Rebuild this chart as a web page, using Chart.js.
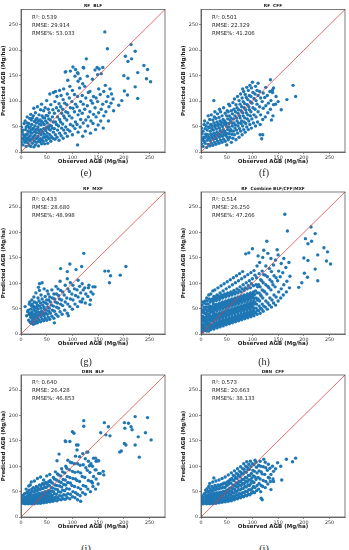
<!DOCTYPE html>
<html>
<head>
<meta charset="utf-8">
<script src="https://cdn.jsdelivr.net/npm/chart.js@4.4.1/dist/chart.umd.min.js"></script>
<style>
  body { margin: 0; background: #fff; width: 349px; height: 550px; overflow: hidden; position: relative; }
  .panel { position: absolute; }
  .cap { position: absolute; font-family: "Liberation Serif", serif; font-size: 10px; color: #222; transform: translate(-50%, -50%); }
</style>
</head>
<body>
<div class="panel" style="left:0;top:0"><canvas id="c0" width="175" height="168"></canvas></div>
<div class="panel" style="left:180px;top:0"><canvas id="c1" width="169" height="168"></canvas></div>
<div class="panel" style="left:0;top:182px"><canvas id="c2" width="175" height="168"></canvas></div>
<div class="panel" style="left:180px;top:182px"><canvas id="c3" width="169" height="168"></canvas></div>
<div class="panel" style="left:0;top:365px"><canvas id="c4" width="175" height="168"></canvas></div>
<div class="panel" style="left:180px;top:365px"><canvas id="c5" width="169" height="168"></canvas></div>

<div class="cap" style="left:86px;top:172px">(e)</div>
<div class="cap" style="left:264px;top:172px">(f)</div>
<div class="cap" style="left:86px;top:361px">(g)</div>
<div class="cap" style="left:264px;top:361px">(h)</div>
<div class="cap" style="left:86px;top:548px">(i)</div>
<div class="cap" style="left:264px;top:548px">(j)</div>

<script>
// titels en statistieken per paneel
const titles = ['RF  BLF', 'RF  CFF', 'RF  MXF', 'RF  Combine BLF/CFF/MXF', 'DBN  BLF', 'DBN  CFF'];
const r2 = ['0.539', '0.501', '0.433', '0.514', '0.640', '0.573'];
const rmse = ['29.914', '22.329', '28.680', '26.250', '26.428', '20.663'];
const rmsePct = ['53.033', '41.206', '48.998', '47.266', '46.853', '38.133'];
const tickVals = [0, 50, 100, 150, 200, 250];
const axisMax = 280;
const oneToOne = [0, 280];

// (e) RF BLF  [observed, predicted]
const rfBlf = [
  [1,19],[3,27],[2,39],[1,49],[4,14],[6,23],[5,34],[4,43],[6,56],[8,19],[7,31],[9,44],[8,61],
  [10,11],[11,23],[9,28],[11,35],[10,49],[12,57],[13,18],[14,25],[12,35],[14,41],[13,51],[12,69],
  [16,13],[17,22],[15,29],[17,39],[16,47],[15,56],[17,66],[19,11],[20,25],[18,32],[20,43],[18,49],[20,63],[19,74],
  [22,17],[23,27],[21,37],[23,45],[21,54],[22,67],[25,10],[26,21],[24,30],[26,40],[24,47],[26,60],[24,71],[25,86],
  [28,14],[29,26],[27,33],[29,44],[27,51],[29,64],[28,77],[31,19],[32,28],[30,38],[32,45],[30,57],[31,66],[32,89],
  [34,12],[35,23],[33,31],[35,42],[33,49],[34,61],[35,73],[37,20],[38,26],[36,37],[38,44],[36,55],[37,63],[38,83],
  [40,16],[41,24],[39,34],[41,41],[39,53],[40,60],[41,71],[40,94],[43,21],[44,29],[42,39],[44,46],[42,58],[43,67],[44,81],
  [46,16],[47,29],[45,35],[47,46],[45,54],[46,67],[47,87],[49,23],[50,31],[48,42],[50,49],[48,61],[49,72],[50,101],
  [52,17],[53,28],[51,37],[53,48],[51,57],[52,71],[53,84],[55,26],[56,34],[54,45],[56,52],[54,65],[55,77],[56,114],
  [58,21],[59,30],[57,43],[59,51],[57,63],[58,93],[62,27],[63,39],[61,47],[63,59],[61,69],[62,83],[63,117],
  [66,25],[67,34],[65,46],[67,59],[65,76],[66,99],[67,119],[70,29],[71,43],[69,54],[71,69],[69,87],[70,109],
  [74,23],[75,37],[73,51],[75,64],[73,81],[74,95],[75,121],[78,32],[79,47],[77,59],[79,76],[77,89],[78,111],
  [82,27],[83,43],[81,55],[83,71],[81,84],[82,103],[83,124],[86,37],[87,49],[85,67],[87,79],[85,96],[86,157],
  [90,31],[91,44],[89,63],[91,77],[89,93],[90,114],[91,141],[95,41],[96,54],[94,71],[96,87],[94,106],[95,129],[96,159],
  [100,34],[101,51],[99,67],[101,86],[99,99],[100,121],[101,167],[105,46],[106,59],[104,79],[106,94],[104,113],[105,149],[106,162],
  [110,14],[111,39],[109,54],[111,73],[109,89],[110,109],[111,139],[110,156],[115,49],[116,64],[114,81],[116,99],[114,126],[115,144],
  [120,31],[121,57],[119,76],[121,94],[119,111],[120,134],[121,166],[125,41],[126,63],[124,84],[126,106],[124,129],[127,183],
  [130,51],[131,69],[129,91],[131,117],[129,149],[135,37],[136,61],[134,79],[136,101],[134,119],
  [140,56],[141,74],[139,96],[141,109],[139,143],[145,44],[146,69],[144,87],[146,106],[144,161],
  [150,53],[151,77],[149,99],[151,124],[149,152],[152,163],[155,61],[156,84],[154,113],[156,154],
  [160,47],[161,71],[159,94],[161,119],[159,166],[165,79],[166,99],[164,131],[170,61],[171,89],[169,109],[173,124],
  [175,96],[176,114],[180,81],[179,104],
  [163,236],[168,203],[214,211],[222,198],[203,188],[208,178],[215,183],[239,170],[246,162],[227,156],[200,150],
  [208,145],[244,144],[252,138],[222,128],[201,120],[207,112],[227,105],[196,101],[190,92],[148,166],[122,165],[87,158],[111,154]
];

// (f) RF CFF
const rfCff = [
  [1,16],[3,24],[2,36],[1,47],[4,11],[6,21],[5,29],[4,41],[6,54],[8,17],[7,28],[9,35],[8,46],[7,61],
  [11,9],[12,23],[10,30],[12,43],[10,51],[14,15],[15,27],[13,34],[15,48],[13,57],[14,71],
  [17,12],[18,22],[16,29],[18,41],[16,49],[17,64],[20,17],[21,28],[19,35],[21,46],[19,54],[20,73],
  [23,13],[24,25],[22,32],[24,43],[22,51],[23,63],[26,19],[27,30],[25,37],[27,49],[25,57],[26,69],[27,79],
  [29,15],[30,26],[28,34],[30,45],[28,53],[29,66],[32,21],[33,32],[31,39],[33,51],[31,59],[32,75],
  [35,17],[36,29],[34,36],[36,47],[34,55],[35,68],[36,84],[38,23],[39,34],[37,42],[39,53],[37,61],[38,79],
  [41,19],[42,31],[40,39],[42,50],[40,58],[41,71],[44,25],[45,36],[43,44],[45,56],[43,64],[44,87],
  [47,21],[48,33],[46,41],[48,53],[46,61],[47,76],[50,14],[51,29],[49,37],[51,49],[49,57],[50,71],[51,81],
  [53,24],[54,36],[52,44],[54,56],[52,65],[53,79],[54,94],[56,29],[57,41],[55,49],[57,62],[55,71],[56,91],
  [59,19],[60,35],[58,44],[60,57],[58,67],[59,81],[62,27],[63,41],[61,51],[63,65],[61,75],[62,97],
  [65,34],[66,47],[64,57],[66,71],[64,84],[65,104],[68,24],[69,43],[67,53],[69,67],[67,79],[68,93],
  [71,37],[72,51],[70,61],[72,76],[70,87],[71,109],[74,29],[75,46],[73,57],[75,71],[73,83],[74,101],
  [77,41],[78,56],[76,67],[78,81],[76,94],[77,114],[80,34],[81,51],[79,61],[81,77],[79,89],[80,106],[81,124],
  [83,44],[84,59],[82,71],[84,87],[82,99],[83,119],[86,39],[87,56],[85,67],[87,83],[85,95],[86,113],
  [89,49],[90,65],[88,77],[90,93],[88,107],[89,127],[92,44],[93,61],[91,73],[93,89],[91,103],[92,121],
  [95,54],[96,71],[94,83],[96,99],[94,111],[95,131],[98,47],[99,65],[97,79],[99,96],[97,109],[98,126],
  [102,57],[103,73],[101,87],[103,105],[101,117],[106,51],[107,69],[105,84],[107,101],[105,114],[106,129],
  [110,59],[111,79],[109,94],[111,111],[109,121],[115,54],[116,73],[114,89],[116,106],[114,119],
  [120,64],[121,86],[119,99],[121,116],[125,69],[126,91],[124,107],[126,127],[130,77],[131,96],[129,111],
  [135,84],[136,101],[134,119],[140,71],[141,93],[139,117],[141,126],[145,94],[146,109],[150,99],
  [135,142],[111,135],[100,137],[139,122],[179,131],[184,109],[167,103],[156,83],[25,101],[115,34],[120,34],[118,26],[137,63]
];

// (g) RF MXF
const rfMxf = [
  [11,36],[13,44],[15,27],[16,39],[14,47],[16,59],[18,23],[19,33],[17,41],[19,49],[17,63],
  [20,21],[21,31],[19,37],[21,43],[20,56],[21,67],[22,25],[23,35],[21,41],[23,53],[22,59],
  [24,19],[25,29],[23,37],[25,47],[24,55],[25,73],[26,23],[27,33],[25,39],[27,51],[26,63],
  [28,21],[29,31],[27,35],[29,45],[28,53],[29,81],[30,25],[31,35],[29,41],[31,53],[30,61],
  [32,22],[33,31],[31,37],[33,49],[32,57],[33,71],[35,27],[36,37],[34,43],[36,55],[35,65],[36,86],
  [38,24],[39,34],[37,41],[39,51],[38,61],[39,77],[41,29],[42,39],[40,45],[42,57],[41,69],
  [44,26],[45,36],[43,43],[45,53],[44,63],[45,89],[47,31],[48,41],[46,49],[48,61],[47,74],
  [50,27],[51,39],[49,47],[51,59],[50,67],[51,85],[53,33],[54,45],[52,53],[54,67],[53,79],
  [56,29],[57,41],[55,51],[57,63],[56,73],[60,35],[61,47],[59,57],[61,71],[60,87],
  [64,31],[65,45],[63,55],[65,69],[64,79],[68,39],[69,53],[67,63],[69,79],[68,94],
  [72,35],[73,51],[71,61],[73,76],[72,89],[76,44],[77,59],[75,69],[77,86],[76,104],
  [80,39],[81,56],[79,67],[81,83],[85,47],[86,63],[84,77],[86,96],[90,41],[91,59],[89,71],[91,89],[90,109],
  [95,54],[96,69],[94,84],[96,101],[100,49],[101,67],[99,79],[101,96],[105,59],[106,76],[104,89],
  [110,54],[111,73],[109,87],[111,106],[115,64],[116,81],[114,94],[120,69],[121,87],[119,99],
  [125,61],[126,79],[124,91],[130,74],[131,91],[135,67],[136,83],[140,79],
  [122,159],[95,138],[77,129],[107,127],[118,133],[90,123],[204,133],[193,116],[174,115],[163,124],[170,124],
  [172,101],[132,96],[140,93],[144,93],[134,58],[118,63],[92,36],[65,22],[8,54],[36,99],[41,101],[34,92]
];

// (h) RF Combine BLF/CFF/MXF
const rfComb = [
  [1,9],[2,15],[0,25],[1,31],[2,43],[0,51],[3,4],[4,13],[2,19],[4,29],[3,35],[4,47],[2,57],
  [5,11],[6,17],[4,27],[6,33],[5,45],[6,53],[4,63],[7,7],[8,13],[6,23],[8,29],[7,41],[8,49],[6,61],
  [9,8],[10,18],[8,24],[10,34],[9,41],[10,53],[8,65],[11,6],[12,12],[10,22],[12,28],[11,39],[12,47],[10,59],[11,71],
  [13,11],[14,17],[12,27],[14,34],[13,45],[14,53],[12,65],[15,6],[16,16],[14,22],[16,32],[15,39],[16,51],[14,59],[15,77],
  [17,13],[18,19],[16,29],[18,36],[17,47],[18,55],[16,69],[19,9],[20,15],[18,25],[20,32],[19,43],[20,51],[18,63],[19,79],
  [21,12],[22,18],[20,28],[22,35],[21,46],[22,54],[20,67],[23,13],[24,23],[22,29],[24,40],[23,47],[24,59],[22,69],[23,85],
  [25,10],[26,16],[24,26],[26,33],[25,44],[26,52],[24,64],[25,74],[27,14],[28,20],[26,30],[28,37],[27,48],[28,56],[26,69],[27,87],
  [29,17],[30,23],[28,33],[30,40],[29,51],[30,59],[28,73],[31,12],[32,18],[30,28],[32,35],[31,46],[32,54],[30,66],[31,77],
  [33,16],[34,22],[32,32],[34,39],[33,50],[34,58],[32,71],[33,91],[35,19],[36,25],[34,35],[36,42],[35,53],[36,61],[34,75],
  [37,14],[38,20],[36,30],[38,37],[37,48],[38,56],[36,68],[37,81],[39,18],[40,24],[38,34],[40,41],[39,52],[40,60],[38,73],[39,95],
  [41,21],[42,27],[40,37],[42,44],[41,55],[42,63],[40,77],[43,16],[44,22],[42,32],[44,39],[43,50],[44,58],[42,71],[43,85],
  [45,20],[46,26],[44,36],[46,43],[45,54],[46,62],[44,75],[45,99],[47,23],[48,29],[46,39],[48,46],[47,57],[48,65],[46,79],
  [49,18],[50,24],[48,34],[50,41],[49,52],[50,60],[48,73],[49,89],[51,22],[52,28],[50,38],[52,45],[51,56],[52,64],[50,77],[51,103],
  [53,25],[54,31],[52,41],[54,48],[53,59],[54,67],[52,81],[55,20],[56,26],[54,36],[56,43],[55,54],[56,62],[54,75],[55,93],
  [57,24],[58,30],[56,40],[58,47],[57,58],[58,66],[56,79],[57,107],[59,27],[60,33],[58,43],[60,50],[59,61],[60,69],[58,83],
  [61,22],[62,28],[60,38],[62,45],[61,56],[62,64],[60,77],[61,97],[63,26],[64,32],[62,42],[64,49],[63,60],[64,68],[62,81],[63,111],
  [65,29],[66,35],[64,45],[66,52],[65,63],[66,71],[64,86],[67,24],[68,30],[66,40],[68,47],[67,58],[68,66],[66,79],[67,101],
  [69,28],[70,34],[68,44],[70,51],[69,62],[70,70],[68,83],[69,115],[71,31],[72,37],[70,47],[72,54],[71,65],[72,73],[70,89],
  [73,26],[74,32],[72,42],[74,49],[73,60],[74,68],[72,81],[73,105],[75,30],[76,36],[74,46],[76,53],[75,64],[76,72],[74,86],[75,119],
  [77,33],[78,39],[76,49],[78,56],[77,67],[78,75],[76,93],[79,28],[80,34],[78,44],[80,51],[79,62],[80,70],[78,83],[79,109],
  [81,32],[82,38],[80,48],[82,55],[81,66],[82,74],[80,89],[81,123],[83,35],[84,41],[82,51],[84,58],[83,69],[84,77],[82,97],
  [85,30],[86,36],[84,46],[86,53],[85,64],[86,72],[84,86],[85,113],[87,34],[88,40],[86,50],[88,57],[87,68],[88,76],[86,91],
  [89,37],[90,43],[88,53],[90,60],[89,71],[90,79],[88,101],[91,32],[92,38],[90,48],[92,55],[91,66],[92,74],[90,89],[91,117],
  [93,36],[94,42],[92,52],[94,59],[93,70],[94,78],[92,95],[95,39],[96,45],[94,55],[96,62],[95,73],[96,81],[94,105],
  [97,34],[98,40],[96,50],[98,57],[97,68],[98,76],[96,91],[97,121],[99,38],[100,44],[98,54],[100,61],[99,72],[100,80],[98,99],
  [101,41],[102,47],[100,57],[102,64],[101,75],[102,83],[100,109],[103,36],[104,42],[102,52],[104,59],[103,70],[104,78],[102,95],[103,125],
  [106,43],[107,51],[105,63],[107,71],[106,85],[107,97],[105,116],[109,39],[110,47],[108,59],[110,67],[109,81],[110,93],[108,111],[109,134],
  [112,46],[113,55],[111,69],[113,81],[112,97],[113,119],[115,41],[116,51],[114,65],[116,77],[115,93],[116,107],[114,141],
  [118,49],[119,59],[117,75],[119,87],[118,105],[119,124],[121,45],[122,55],[120,71],[122,85],[121,101],[122,117],[120,151],
  [125,53],[126,65],[124,83],[126,97],[125,116],[126,134],[129,49],[130,61],[128,79],[130,94],[129,113],[130,159],
  [133,57],[134,71],[132,91],[134,107],[133,129],[137,53],[138,67],[136,87],[138,103],[137,123],[136,149],
  [141,61],[142,77],[140,97],[142,115],[141,136],[145,57],[146,73],[144,93],[146,111],[145,146],
  [150,65],[151,83],[149,105],[151,124],[150,156],[155,71],[156,89],[154,113],[156,139],
  [160,77],[161,97],[159,121],[161,149],[166,83],[167,104],[165,131],[172,91],[173,114],[171,141],
  [163,236],[168,203],[214,211],[222,198],[203,188],[208,178],[215,183],[239,170],[246,162],[227,156],[200,150],
  [208,145],[244,144],[252,138],[222,128],[201,120],[207,112],[227,105],[196,101],[190,92],[128,183],[148,166],
  [122,165],[87,158],[111,154],[100,168],[93,160]
];

// (i) DBN BLF
const dbnBlf = [
  [1,28],[3,31],[2,38],[4,27],[6,30],[5,35],[4,43],[8,26],[7,29],[9,33],[8,39],[7,46],
  [11,27],[12,31],[10,35],[12,41],[11,48],[10,55],[14,26],[15,29],[13,33],[15,37],[14,44],[13,50],[15,61],
  [17,27],[18,30],[16,34],[18,40],[17,45],[16,53],[18,63],[20,26],[21,29],[19,32],[21,37],[20,41],[19,48],[21,55],[20,69],
  [23,27],[24,30],[22,34],[24,39],[23,43],[22,51],[24,58],[26,26],[27,29],[25,33],[27,38],[26,42],[25,49],[27,56],[26,71],
  [29,28],[30,31],[28,35],[30,41],[29,45],[28,53],[30,60],[32,27],[33,30],[31,34],[33,39],[32,44],[31,51],[33,58],[32,76],
  [35,28],[36,32],[34,36],[36,42],[35,47],[34,55],[36,63],[38,27],[39,31],[37,35],[39,41],[38,46],[37,54],[39,62],[38,79],
  [41,29],[42,33],[40,37],[42,43],[41,48],[40,57],[42,66],[44,28],[45,32],[43,36],[45,42],[44,47],[43,56],[45,64],[44,73],
  [47,30],[48,34],[46,39],[48,45],[47,50],[46,59],[48,68],[50,29],[51,33],[49,38],[51,44],[50,49],[49,58],[51,66],[50,81],
  [53,31],[54,35],[52,40],[54,47],[53,52],[52,61],[54,70],[56,30],[57,34],[55,39],[57,46],[56,52],[55,62],[57,72],[56,84],
  [59,32],[60,37],[58,43],[60,51],[59,58],[58,69],[62,31],[63,36],[61,42],[63,50],[62,57],[61,67],[63,78],
  [66,33],[67,39],[65,46],[67,55],[66,63],[65,75],[67,89],[70,32],[71,38],[69,45],[71,54],[70,62],[69,73],[71,85],[70,111],
  [74,35],[75,42],[73,50],[75,61],[74,70],[73,83],[74,124],[78,34],[79,41],[77,49],[79,59],[78,68],[77,81],[79,95],
  [82,36],[83,44],[81,53],[83,64],[82,74],[81,89],[86,35],[87,43],[85,52],[87,63],[86,73],[85,87],[87,100],[86,150],
  [90,38],[91,46],[89,56],[91,68],[90,80],[89,96],[91,112],[95,36],[96,45],[94,55],[96,67],[95,78],[94,93],[96,108],[95,149],
  [100,40],[101,50],[99,62],[101,76],[100,90],[99,107],[100,168],[105,38],[106,48],[104,60],[106,75],[105,88],[104,105],[106,120],
  [110,45],[111,58],[109,72],[111,89],[110,105],[109,132],[111,142],[115,42],[116,55],[114,70],[116,87],[115,102],[114,119],
  [120,48],[121,62],[119,80],[121,103],[120,125],[125,45],[126,60],[124,78],[126,97],[125,115],
  [130,55],[131,72],[129,92],[131,110],[130,128],[135,50],[136,70],[134,88],[136,105],
  [140,60],[141,80],[139,100],[141,116],[145,55],[146,75],[144,93],[146,110],[150,65],[151,86],[149,111],
  [122,190],[122,179],[103,165],[222,198],[246,196],[201,186],[209,185],[214,178],[216,172],[202,175],[228,158],
  [242,166],[253,152],[201,145],[204,142],[222,142],[195,130],[192,128],[230,118],[155,166],[165,162],[173,160],
  [162,186],[170,178],[160,90],[161,83],[137,70],[139,67],[110,34],[116,31],[87,149],[108,142],[128,128],
  [133,101],[145,116],[151,111],[146,93],[154,86]
];

// (j) DBN CFF
const dbnCff = [
  [1,27],[3,30],[2,35],[1,41],[4,26],[6,29],[5,33],[4,38],[6,45],[8,27],[7,30],[9,34],[8,40],[7,46],[9,53],
  [11,26],[12,29],[10,32],[12,37],[11,42],[10,49],[12,56],[14,27],[15,30],[13,34],[15,39],[14,44],[13,51],[15,60],
  [17,26],[18,29],[16,33],[18,38],[17,42],[16,49],[18,55],[17,66],[20,27],[21,31],[19,35],[21,41],[20,46],[19,53],[21,60],
  [23,26],[24,30],[22,34],[24,39],[23,44],[22,51],[24,57],[23,69],[26,28],[27,32],[25,36],[27,42],[26,47],[25,55],[27,62],
  [29,27],[30,31],[28,35],[30,41],[29,45],[28,53],[30,59],[29,71],[32,29],[33,33],[31,37],[33,43],[32,48],[31,56],[33,63],
  [35,28],[36,32],[34,36],[36,42],[35,47],[34,55],[36,61],[35,73],[38,30],[39,34],[37,38],[39,44],[38,49],[37,57],[39,64],
  [41,29],[42,33],[40,38],[42,44],[41,49],[40,57],[42,65],[41,76],[44,31],[45,35],[43,40],[45,46],[44,51],[43,59],[45,67],
  [47,30],[48,34],[46,39],[48,45],[47,50],[46,58],[48,66],[47,79],[50,32],[51,36],[49,41],[51,48],[50,53],[49,61],[51,69],
  [53,31],[54,36],[52,41],[54,48],[53,54],[52,63],[54,71],[53,83],[56,33],[57,38],[55,44],[57,51],[56,57],[55,66],[57,74],
  [59,32],[60,38],[58,44],[60,52],[59,58],[58,67],[60,76],[59,87],[62,35],[63,41],[61,48],[63,56],[62,63],[61,73],[63,82],
  [65,34],[66,40],[64,47],[66,55],[65,62],[64,72],[66,80],[65,91],[68,37],[69,44],[67,51],[69,60],[68,67],[67,77],[69,86],
  [71,36],[72,43],[70,50],[72,59],[71,66],[70,76],[72,84],[71,95],[74,39],[75,46],[73,54],[75,63],[74,70],[73,81],[75,90],
  [77,38],[78,45],[76,53],[78,62],[77,70],[76,80],[78,88],[77,99],[80,41],[81,48],[79,56],[81,66],[80,74],[79,85],[81,95],
  [83,40],[84,48],[82,56],[84,66],[83,74],[82,85],[84,94],[83,105],[86,43],[87,51],[85,60],[87,70],[86,78],[85,89],[87,100],
  [89,42],[90,50],[88,59],[90,69],[89,77],[88,88],[90,98],[89,109],[92,45],[93,54],[91,63],[93,73],[92,82],[91,93],[93,104],
  [95,44],[96,53],[94,62],[96,73],[95,82],[94,94],[96,110],[98,47],[99,56],[97,66],[99,77],[98,86],[97,99],
  [101,50],[102,60],[100,70],[102,81],[101,92],[100,105],[104,48],[105,58],[103,68],[105,79],[104,90],[103,103],[105,112],
  [108,52],[109,62],[107,74],[109,87],[108,98],[107,108],[112,55],[113,66],[111,78],[113,91],[112,102],
  [116,50],[117,62],[115,75],[117,89],[116,100],[115,110],[120,60],[121,72],[119,85],[121,99],
  [125,58],[126,70],[124,84],[126,97],[125,108],[130,65],[131,78],[129,92],[131,104],[135,70],[136,84],[134,96],
  [140,75],[141,90],[139,100],
  [184,116],[178,109],[166,114],[149,107],[157,73],[136,54],[117,37],[119,34],[133,77],[141,70],[122,114],[25,77],[155,100],[145,95]
];

const panelData = [rfBlf, rfCff, rfMxf, rfComb, dbnBlf, dbnCff];

Chart.defaults.font.family = '"DejaVu Sans", sans-serif';
Chart.defaults.color = '#333';

// kader om het plotgebied + titel + statistieken
const frameAndText = {
  id: 'frameAndText',
  afterDatasetsDraw(chart, args, opts) {
    const ctx = chart.ctx;
    const a = chart.chartArea;
    ctx.save();
    ctx.strokeStyle = '#444';
    ctx.lineWidth = 0.7;
    ctx.strokeRect(a.left, a.top, a.right - a.left, a.bottom - a.top);
    ctx.fillStyle = '#222';
    ctx.textBaseline = 'middle';
    ctx.textAlign = 'center';
    ctx.font = 'bold 4.3px "DejaVu Sans"';
    ctx.fillText(opts.title, (a.left + a.right) / 2, a.top - 3.6);
    ctx.textAlign = 'left';
    ctx.font = '5.4px "DejaVu Sans"';
    opts.lines.forEach((t, i) => ctx.fillText(t, a.left + 11, a.top + 7.8 + i * 8));
    ctx.restore();
  }
};

function axis(title, isY) {
  return {
    type: 'linear',
    min: 0,
    max: axisMax,
    afterBuildTicks: (s) => { s.ticks = tickVals.map(v => ({ value: v })); },
    afterFit: (s) => { if (isY) s.width = 21; else s.height = 16; },
    ticks: { font: { size: 4.8 }, color: '#333', padding: 1, maxRotation: 0, autoSkip: false },
    grid: { drawOnChartArea: false, drawTicks: true, tickLength: 2, color: '#444', lineWidth: 0.6 },
    border: { display: true, color: '#444', width: 0.7 },
    title: {
      display: true,
      text: title,
      color: '#222',
      font: { size: 5.5, weight: 'bold' },
      padding: isY ? { top: 0.7, bottom: 0 } : { top: 0, bottom: 2.7 }
    }
  };
}

panelData.forEach((pts, i) => {
  const rightCol = i % 2 === 1;
  new Chart(document.getElementById('c' + i), {
    type: 'scatter',
    data: {
      datasets: [
        {
          type: 'line',
          data: oneToOne.map(v => ({ x: v, y: v })),
          borderColor: 'rgba(222, 60, 60, 0.75)',
          borderWidth: 1,
          pointRadius: 0
        },
        {
          data: pts.map(p => ({ x: p[0], y: p[1] })),
          backgroundColor: '#1f77b4',
          borderWidth: 0,
          pointRadius: 1.7
        }
      ]
    },
    options: {
      responsive: false,
      devicePixelRatio: 1,
      animation: false,
      layout: { padding: { top: i < 2 ? 9.5 : 10, right: rightCol ? 4 : 10, left: 0, bottom: 0 } },
      plugins: {
        legend: { display: false },
        tooltip: { enabled: false },
        frameAndText: {
          title: titles[i],
          lines: ['R\u00b2: ' + r2[i], 'RMSE: ' + rmse[i], 'RMSE%: ' + rmsePct[i]]
        }
      },
      scales: {
        x: axis('Observed AGB (Mg/ha)', false),
        y: axis('Predicted AGB (Mg/ha)', true)
      }
    },
    plugins: [frameAndText]
  });
});
</script>
</body>
</html>
